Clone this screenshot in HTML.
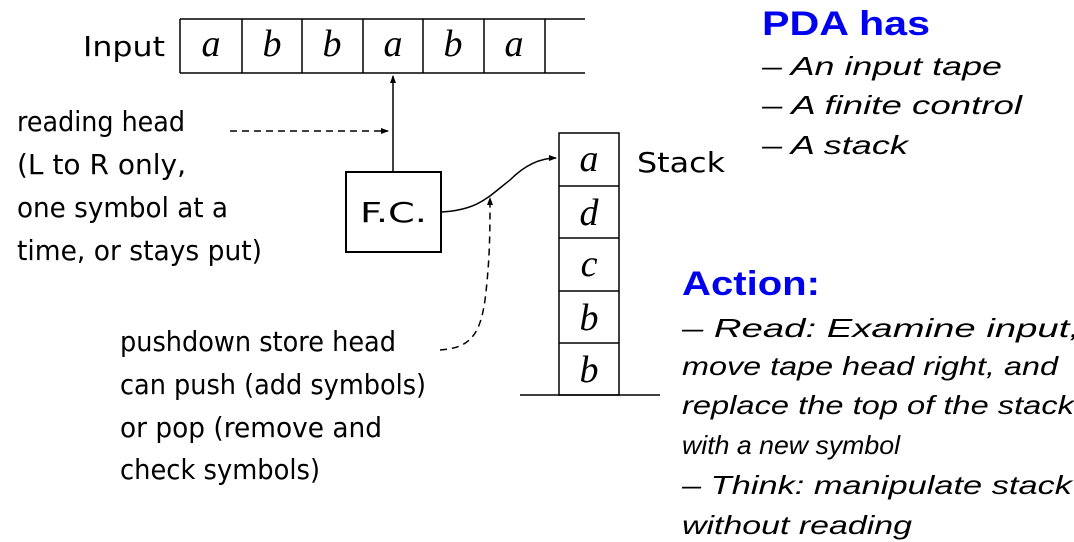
<!DOCTYPE html>
<html><head><meta charset="utf-8"><style>
html,body{margin:0;padding:0;background:#fff;width:1074px;height:542px;overflow:hidden}
svg{display:block}
.s{font-family:"DejaVu Sans","Liberation Sans",sans-serif;font-size:28px;fill:#000}
.m{font-family:"Liberation Serif",serif;font-style:italic;font-size:38px;fill:#000}
.i{font-family:"Liberation Sans",sans-serif;font-style:italic;font-size:26px;fill:#000}
.b{font-family:"Liberation Sans",sans-serif;font-weight:bold;font-size:34px;fill:#0000f0}
</style></head><body>
<svg width="1074" height="542" viewBox="0 0 1074 542" xmlns="http://www.w3.org/2000/svg">
<defs><marker id="ah" markerWidth="8" markerHeight="8" refX="7" refY="4" orient="auto" markerUnits="userSpaceOnUse"><path d="M0,1 L8,4 L0,7 Z" fill="#000"/></marker></defs>
<g stroke="#000" stroke-width="1.5" fill="none">
<line x1="180" y1="19" x2="585" y2="19"/><line x1="180" y1="73" x2="585" y2="73"/>
<line x1="180" y1="19" x2="180" y2="73"/><line x1="242" y1="19" x2="242" y2="73"/><line x1="302" y1="19" x2="302" y2="73"/><line x1="363" y1="19" x2="363" y2="73"/><line x1="423" y1="19" x2="423" y2="73"/><line x1="484" y1="19" x2="484" y2="73"/><line x1="545" y1="19" x2="545" y2="73"/>
<rect x="346" y="172" width="95" height="80" stroke-width="2"/>
<line x1="393" y1="172" x2="393" y2="76" marker-end="url(#ah)"/>
<line x1="230" y1="131" x2="388" y2="131" stroke-dasharray="7,5" marker-end="url(#ah)"/>
<path d="M441,212 C480,210 490,195 510,180 C525,165 540,158 556,158" marker-end="url(#ah)"/>
<path d="M440,350 C470,348 480,335 485,300 C490,260 490,230 490,198" stroke-dasharray="7,5" marker-end="url(#ah)"/>
<rect x="559" y="133" width="60" height="262"/>
<line x1="559" y1="186" x2="619" y2="186"/><line x1="559" y1="238" x2="619" y2="238"/><line x1="559" y1="291" x2="619" y2="291"/><line x1="559" y1="343" x2="619" y2="343"/>
<line x1="520" y1="395" x2="660" y2="395"/>
</g>
<g lengthAdjust="spacingAndGlyphs">
<text class="s" x="83" y="56" font-size="30" textLength="82" lengthAdjust="spacingAndGlyphs">Input</text>
<text class="s" x="637" y="172" font-size="30" textLength="88" lengthAdjust="spacingAndGlyphs">Stack</text>
<text class="s" x="360" y="222" font-size="30" textLength="67" lengthAdjust="spacingAndGlyphs">F.C.</text>
<text class="s" x="17" y="131" textLength="168" lengthAdjust="spacingAndGlyphs">reading head</text>
<text class="s" x="17" y="174" textLength="169" lengthAdjust="spacingAndGlyphs">(L to R only,</text>
<text class="s" x="17" y="217" textLength="211" lengthAdjust="spacingAndGlyphs">one symbol at a</text>
<text class="s" x="17" y="260" textLength="245" lengthAdjust="spacingAndGlyphs">time, or stays put)</text>
<text class="s" x="120" y="351" textLength="276" lengthAdjust="spacingAndGlyphs">pushdown store head</text>
<text class="s" x="120" y="394" textLength="306" lengthAdjust="spacingAndGlyphs">can push (add symbols)</text>
<text class="s" x="120" y="437" textLength="262" lengthAdjust="spacingAndGlyphs">or pop (remove and</text>
<text class="s" x="120" y="479" textLength="200" lengthAdjust="spacingAndGlyphs">check symbols)</text>
<text class="b" x="762" y="35" textLength="168" lengthAdjust="spacingAndGlyphs">PDA has</text>
<text class="i" x="762" y="75" textLength="240" lengthAdjust="spacingAndGlyphs">– An input tape</text>
<text class="i" x="762" y="114" textLength="260" lengthAdjust="spacingAndGlyphs">– A finite control</text>
<text class="i" x="762" y="154" textLength="146" lengthAdjust="spacingAndGlyphs">– A stack</text>
<text class="b" x="682" y="295" textLength="138" lengthAdjust="spacingAndGlyphs">Action:</text>
<text class="i" x="682" y="337" textLength="398" lengthAdjust="spacingAndGlyphs">– Read:  Examine input,</text>
<text class="i" x="682" y="375" textLength="376" lengthAdjust="spacingAndGlyphs">move tape head right, and</text>
<text class="i" x="682" y="414" textLength="392" lengthAdjust="spacingAndGlyphs">replace the top of the stack</text>
<text class="i" x="682" y="454" textLength="218" lengthAdjust="spacingAndGlyphs">with a new symbol</text>
<text class="i" x="682" y="494" textLength="390" lengthAdjust="spacingAndGlyphs">– Think: manipulate stack</text>
<text class="i" x="682" y="534" textLength="230" lengthAdjust="spacingAndGlyphs">without reading</text>
</g>
<g class="m" text-anchor="middle">
<text x="211" y="56">a</text><text x="272" y="56">b</text><text x="332" y="56">b</text><text x="393" y="56">a</text><text x="453" y="56">b</text><text x="514" y="56">a</text>
<text x="589" y="171">a</text><text x="589" y="225">d</text><text x="589" y="276">c</text><text x="589" y="330">b</text><text x="589" y="382">b</text>
</g>
</svg>
</body></html>
